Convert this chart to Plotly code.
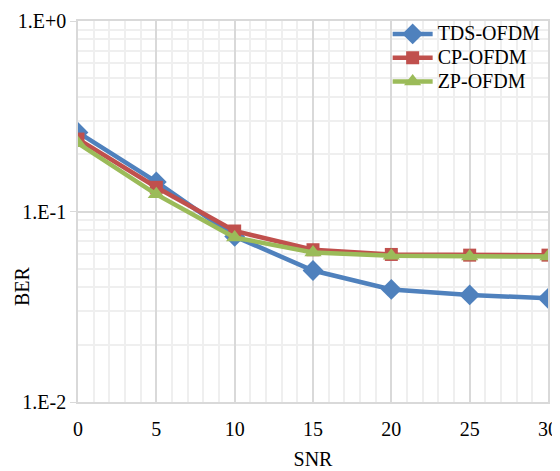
import plotly.graph_objects as go

snr = [0, 5, 10, 15, 20, 25, 30]
tds = [0.26, 0.143, 0.074, 0.049, 0.039, 0.0365, 0.035]
cp = [0.24, 0.134, 0.079, 0.063, 0.0595, 0.059, 0.059]
zp = [0.228, 0.123, 0.073, 0.061, 0.0585, 0.058, 0.058]
names = ["TDS-OFDM", "CP-OFDM", "ZP-OFDM"]
ytick_vals = [0.01, 0.1, 1]
ytick_text = ["1.E-2", "1.E-1", "1.E+0"]

font = "Liberation Serif"

def lbl(s):
    return "<span style='font-size:20px'>" + s + "</span>"

fig = go.Figure()
fig.add_trace(go.Scatter(x=snr, y=tds, name=lbl(names[0]), mode="lines+markers",
                         line=dict(color="#4F81BD", width=4.5),
                         marker=dict(symbol="diamond", size=16, color="#4F81BD")))
fig.add_trace(go.Scatter(x=snr, y=cp, name=lbl(names[1]), mode="lines+markers",
                         line=dict(color="#C0504D", width=4.5),
                         marker=dict(symbol="square", size=13, color="#C0504D")))
fig.add_trace(go.Scatter(x=snr, y=zp, name=lbl(names[2]), mode="lines+markers",
                         line=dict(color="#9BBB59", width=4.5),
                         marker=dict(symbol="triangle-up", size=15, color="#9BBB59")))

fig.update_layout(
    width=552, height=463,
    margin=dict(l=70, r=12, t=13, b=69, autoexpand=False),
    paper_bgcolor="white", plot_bgcolor="white",
    font=dict(family=font, size=20, color="#000000"),
    showlegend=True,
    legend=dict(x=0.995, y=1.0105, xanchor="right", yanchor="top",
                bgcolor="rgba(255,255,255,0)", font=dict(size=16, family=font, color="#000000"),
                tracegroupgap=0, itemwidth=40),
    annotations=[dict(text="BER", xref="paper", yref="paper", x=-0.119, y=0.3045,
                      textangle=-90, showarrow=False, xanchor="center", yanchor="middle",
                      font=dict(size=20, family=font, color="#000000"))],
)
fig.update_xaxes(
    range=[0, 30], dtick=5, tick0=0, automargin=False,
    showgrid=True, gridcolor="#D9D9D9", gridwidth=1.5,
    minor=dict(dtick=1, showgrid=True, gridcolor="#EFEFEF", gridwidth=1.5),
    showline=True, linecolor="#D9D9D9", linewidth=1.5, mirror=True,
    zeroline=False, ticks="outside", ticklen=8, tickcolor="rgba(0,0,0,0)",
    title=dict(text="SNR", standoff=13, font=dict(size=20, family=font)),
    tickfont=dict(size=20, family=font),
)
fig.update_yaxes(
    type="log", range=[-2, 0], automargin=False,
    tickvals=ytick_vals, ticktext=ytick_text,
    showgrid=True, gridcolor="#D9D9D9", gridwidth=1.5,
    minor=dict(dtick="D1", showgrid=True, gridcolor="#EFEFEF", gridwidth=1.5),
    showline=True, linecolor="#D9D9D9", linewidth=1.5, mirror=True,
    ticks="outside", ticklen=6, tickcolor="#D9D9D9",
    zeroline=False,
    tickfont=dict(size=20, family=font),
)

fig.write_html("out.html")
